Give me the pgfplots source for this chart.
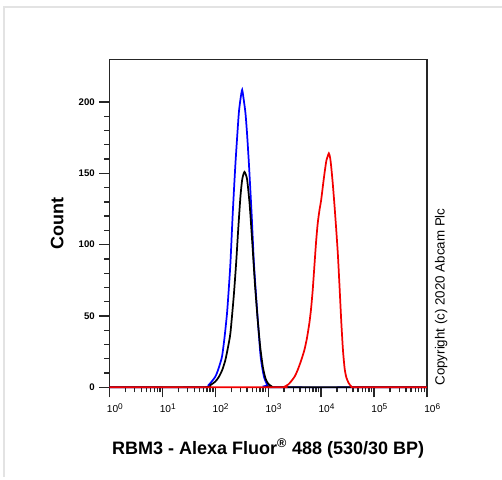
\documentclass[border=0pt]{standalone}
\usepackage{fontspec}
\setmainfont{Liberation Sans}
\usepackage{pgfplots}
\usepackage{pgfplotstable}
\pgfplotsset{compat=1.18}

% x values are log10 of the fluorescence
\pgfplotstableread{
lx y
0 0
1.747 0
1.873 1.6
2.0 7.4
2.06 13
2.127 21.5
2.175 35
2.222 52
2.255 69
2.286 87
2.33 122
2.381 157
2.444 192
2.48 203
2.508 208.6
2.54 201
2.571 192
2.60 178
2.635 157
2.686 122
2.73 87
2.794 52
2.857 21.5
2.92 7.4
2.984 1.6
3.05 0
6 0
}\blueiso

\pgfplotstableread{
lx y
0 0
1.78 0
1.905 1.5
2.0 4
2.063 7
2.13 12
2.19 19
2.24 28
2.286 38
2.349 64
2.394 87
2.432 110
2.476 134
2.51 146
2.552 151
2.60 146
2.65 128
2.70 101
2.75 72
2.80 48
2.85 28
2.90 14
2.95 6
3.00 2.5
3.05 1
3.12 0
6 0
}\blackunst

\pgfplotstableread{
lx y
0 0
3.2 0
3.30 0.3
3.38 2
3.43 4
3.50 7.5
3.556 12
3.62 18.5
3.683 26
3.73 34
3.778 45
3.81 55
3.841 68
3.873 85
3.905 102
3.936 115
3.968 124
4.0 131
4.03 140
4.064 150
4.10 159
4.146 164
4.17 161
4.19 155
4.22 143
4.254 127
4.285 111
4.317 93
4.349 70
4.381 46
4.413 26
4.445 13
4.476 7
4.52 3
4.571 0.6
4.667 0
6 0
}\redrbm

\newcommand{\dec}[1]{10\raisebox{0.7ex}{\fontsize{6.2}{7}\selectfont #1}}

\begin{document}
\begin{tikzpicture}
\useasboundingbox (0,0) rectangle (376.5pt,359.25pt);
% light frame of the image
\draw[gray!22, line width=1.5pt] (3pt,1.5pt) -- (3pt,354pt) -- (376.5pt,354pt);

\begin{axis}[
    at={(82.1pt,68.8pt)}, anchor=south west,
    scale only axis,
    width=238.1pt, height=246pt,
    xmode=log,
    xmin=1, xmax=1e6,
    ymin=0, ymax=230,
    xtick={1,10,100,1000,1e4,1e5,1e6},
    xticklabels={\dec{0},\dec{1},\dec{2},\dec{3},\dec{4},\dec{5},\dec{6}},
    ytick={0,50,100,150,200},
    minor y tick num=4,
    tick align=outside,
    xtick pos=bottom, ytick pos=left,
    major tick length=7.5pt, minor tick length=3.75pt,
    every tick/.style={black!85, line width=1pt},
    axis line style={black!85, line width=0.9pt},
    /pgf/number format/assume math mode=true,
    tick label style={font=\bfseries\fontsize{7.2}{8}\selectfont},
    xticklabel style={font=\fontsize{7.6}{8}\selectfont, xshift=4pt, yshift=-1pt},
    clip=false,
    xlabel={RBM3 - Alexa Fluor\textsuperscript{®} 488 (530/30 BP)},
    ylabel={Count},
    label style={font=\bfseries\fontsize{13.5}{16}\selectfont},
    xlabel style={at={(axis description cs:0.5,-0.186)}, anchor=center},
    ylabel style={at={(axis description cs:-0.165,0.5)}, anchor=center, rotate=0},
]
\addplot[blue, line width=1.3pt, smooth, tension=0.35] table[x expr={10^\thisrow{lx}}, y=y] {\blueiso};
\addplot[black, line width=1.3pt, smooth, tension=0.35] table[x expr={10^\thisrow{lx}}, y=y] {\blackunst};
\addplot[red!95!black, line width=1.3pt, smooth, tension=0.35] table[x expr={10^\thisrow{lx}}, y=y] {\redrbm};
\end{axis}

\node[rotate=90, font=\fontsize{10}{12}\selectfont] at (330.8pt,136.5pt) {Copyright (c) 2020 Abcam Plc};
\end{tikzpicture}
\end{document}
